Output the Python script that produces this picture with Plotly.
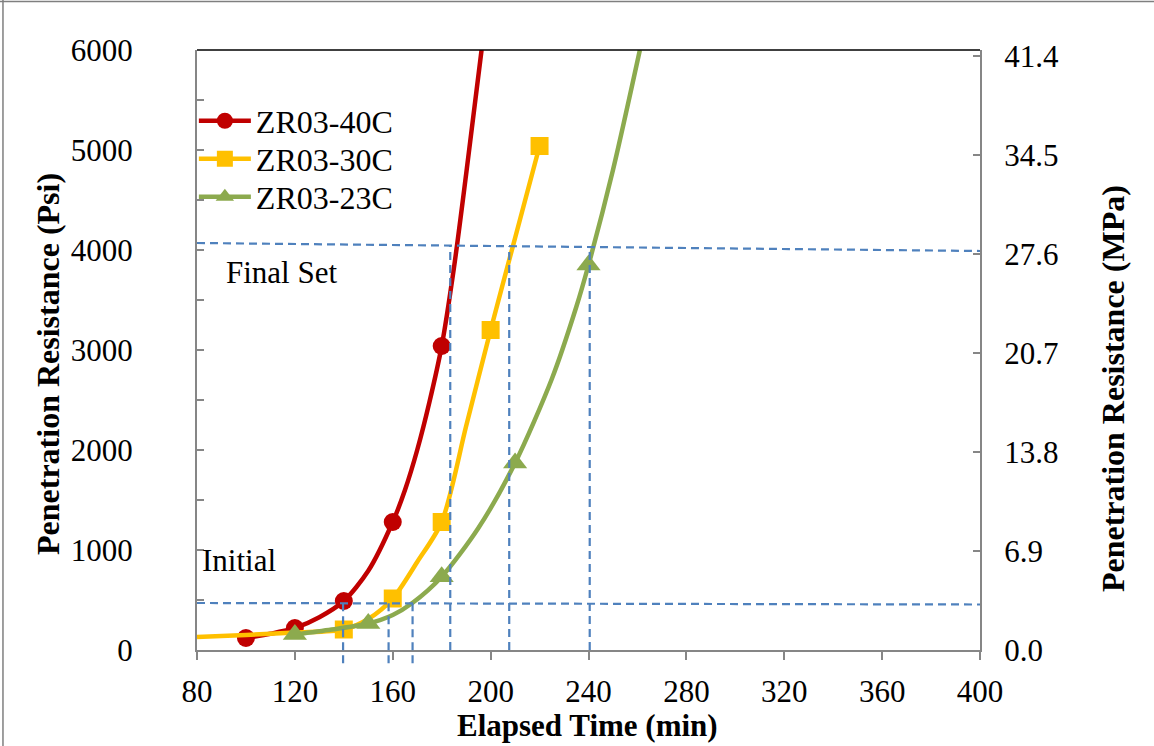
import plotly.graph_objects as go

# ---------------- data ----------------
# measured points
time_40 = [100, 120, 140, 160, 180]
psi_40 = [120, 220, 490, 1280, 3040]
time_30 = [140, 160, 180, 200, 220]
psi_30 = [205, 515, 1280, 3200, 5040]
time_23 = [120, 150, 180, 210, 240]
psi_23 = [155, 265, 733, 1870, 3850]

# fitted curves
fit_t_40 = [100, 110, 120, 130, 140, 150, 160, 165, 170, 175, 180, 185, 190, 196.3]
fit_p_40 = [120, 162, 220, 328, 490, 792, 1280, 1600, 2000, 2480, 3040, 3820, 4760, 6000]
fit_t_30 = [80, 100, 120, 140, 150, 160, 170, 180, 190, 200, 210, 220]
fit_p_30 = [130, 150, 175, 205, 310, 515, 880, 1280, 2240, 3200, 4120, 5040]
fit_t_23 = [120, 135, 150, 160, 168, 180, 195, 210, 225, 235, 240, 250, 261]
fit_p_23 = [155, 205, 265, 350, 470, 733, 1220, 1870, 2710, 3430, 3850, 4800, 6000]

series_names = ["ZR03-40C", "ZR03-30C", "ZR03-23C"]

# set criteria guide lines
guide_x = [80, 400]
initial_level = [470, 455]
final_level = [4070, 3990]
initial_times = [139.7, 158.3, 168.1]
final_times = [183.5, 207.6, 240.5]

# axes
x_ticks = [80, 120, 160, 200, 240, 280, 320, 360, 400]
psi_ticks = [0, 1000, 2000, 3000, 4000, 5000, 6000]
mpa_ticks = [0.0, 6.9, 13.8, 20.7, 27.6, 34.5, 41.4]
mpa_labels = ["0.0", "6.9", "13.8", "20.7", "27.6", "34.5", "41.4"]

# ---------------- styling ----------------
RED = "#C00000"
YEL = "#FFC000"
GRN = "#8CAA4E"
BLUE = "#4F81BD"
AX = "#868686"
FONT = "Liberation Serif"
Y_MAX = 6000

fig = go.Figure()

specs = [
    (fit_t_40, fit_p_40, time_40, psi_40, RED, "circle", 18, "legend"),
    (fit_t_30, fit_p_30, time_30, psi_30, YEL, "square", 18, "legend2"),
    (fit_t_23, fit_p_23, time_23, psi_23, GRN, "triangle-up", 21, "legend3"),
]
for name, (ft, fp, t, p, col, sym, sz, lg) in zip(series_names, specs):
    fig.add_trace(go.Scatter(x=ft, y=fp, mode="lines", showlegend=False,
                             line=dict(color=col, width=4.5, shape="spline", smoothing=0.8),
                             hoverinfo="skip"))
    fig.add_trace(go.Scatter(x=t, y=p, mode="markers", showlegend=False,
                             marker=dict(color=col, symbol=sym, size=sz, line=dict(width=0))))
    fig.add_trace(go.Scatter(x=[None], y=[None], mode="lines+markers", name=name, legend=lg,
                             line=dict(color=col, width=4.5),
                             marker=dict(color=col, symbol=sym, size=sz, line=dict(width=0))))

# invisible trace to anchor the secondary axis
fig.add_trace(go.Scatter(x=[None], y=[None], yaxis="y2", showlegend=False, mode="lines"))

dash = "8px,5px"
shapes = []
# horizontal guide lines
for lvl in (initial_level, final_level):
    shapes.append(dict(type="line", xref="x", yref="y", x0=guide_x[0], x1=guide_x[1],
                       y0=lvl[0], y1=lvl[1], layer="above",
                       line=dict(color=BLUE, width=2.2, dash=dash)))


def level_at(lvl, t):
    return lvl[0] + (lvl[1] - lvl[0]) * (t - guide_x[0]) / (guide_x[1] - guide_x[0])


# vertical guide lines (initial ones reach a little below the axis)
for t in initial_times:
    shapes.append(dict(type="line", xref="x", yref="paper", x0=t, x1=t,
                       y0=-0.022, y1=level_at(initial_level, t) / Y_MAX, layer="above",
                       line=dict(color=BLUE, width=2.2, dash=dash)))
for t in final_times:
    shapes.append(dict(type="line", xref="x", yref="paper", x0=t, x1=t,
                       y0=0, y1=level_at(final_level, t) / Y_MAX, layer="above",
                       line=dict(color=BLUE, width=2.2, dash=dash)))
# top border of plot area
shapes.append(dict(type="line", xref="paper", yref="paper", x0=0, x1=1, y0=1, y1=1,
                   line=dict(color="black", width=1.5)))
# outer frame (left and top edges)
shapes.append(dict(type="line", xref="paper", yref="paper", x0=-0.2478, x1=-0.2478,
                   y0=-0.2, y1=1.09, line=dict(color="#7F7F7F", width=1.5)))
shapes.append(dict(type="line", xref="paper", yref="paper", x0=-0.26, x1=1.25,
                   y0=1.0808, y1=1.0808, line=dict(color="#7F7F7F", width=1.5)))

annotations = [
    dict(text="Initial", x=81.2, y=900, xref="x", yref="y", xanchor="left", yanchor="middle",
         showarrow=False, font=dict(family=FONT, size=31, color="black")),
    dict(text="Final Set", x=91, y=3780, xref="x", yref="y", xanchor="left", yanchor="middle",
         showarrow=False, font=dict(family=FONT, size=31, color="black")),
    dict(text="<b>Penetration Resistance (Psi)</b>", textangle=-90, x=-0.19, y=0.477,
         xref="paper", yref="paper", xanchor="center", yanchor="middle", showarrow=False,
         font=dict(family=FONT, size=32, color="black")),
    dict(text="<b>Penetration Resistance (MPa)</b>", textangle=-90, x=1.17, y=0.435,
         xref="paper", yref="paper", xanchor="center", yanchor="middle", showarrow=False,
         font=dict(family=FONT, size=32, color="black")),
    dict(text="<b>Elapsed Time (min)</b>", x=0.4985, y=-0.125, xref="paper", yref="paper",
         xanchor="center", yanchor="middle", showarrow=False,
         font=dict(family=FONT, size=31, color="black")),
]

legend_common = dict(x=-0.004, xanchor="left", yanchor="middle", bgcolor="rgba(0,0,0,0)",
                     font=dict(family=FONT, size=32, color="black"), itemwidth=52)

fig.update_layout(
    width=1154, height=746,
    margin=dict(l=197, r=174, t=50, b=96),
    paper_bgcolor="white", plot_bgcolor="white",
    font=dict(family=FONT, size=30, color="black"),
    showlegend=True,
    legend=dict(y=0.8817, **legend_common),
    legend2=dict(y=0.8183, **legend_common),
    legend3=dict(y=0.755, **legend_common),
    xaxis=dict(range=[80, 400], tickvals=x_ticks, ticks="outside", ticklen=8, tickwidth=1.5,
               tickcolor=AX, showline=True, linecolor=AX, linewidth=2, showgrid=False,
               zeroline=False, tickfont=dict(family=FONT, size=31), ticklabelstandoff=5),
    yaxis=dict(range=[0, Y_MAX], tickvals=psi_ticks, ticks="inside", ticklen=7, tickwidth=1.5,
               tickcolor=AX, showline=True, linecolor=AX, linewidth=2, showgrid=False,
               zeroline=False, tickfont=dict(family=FONT, size=31), ticklabelstandoff=56,
               minor=dict(dtick=500, ticks="inside", ticklen=7, tickwidth=1.5, tickcolor=AX)),
    yaxis2=dict(range=[0, 41.82], overlaying="y", side="right", tickvals=mpa_ticks,
                ticktext=mpa_labels, ticks="inside", ticklen=7, tickwidth=1.5, tickcolor=AX,
                showline=True, linecolor=AX, linewidth=2, showgrid=False, zeroline=False,
                tickfont=dict(family=FONT, size=31), ticklabelstandoff=16),
    shapes=shapes,
    annotations=annotations,
)

fig.write_html("out.html")
